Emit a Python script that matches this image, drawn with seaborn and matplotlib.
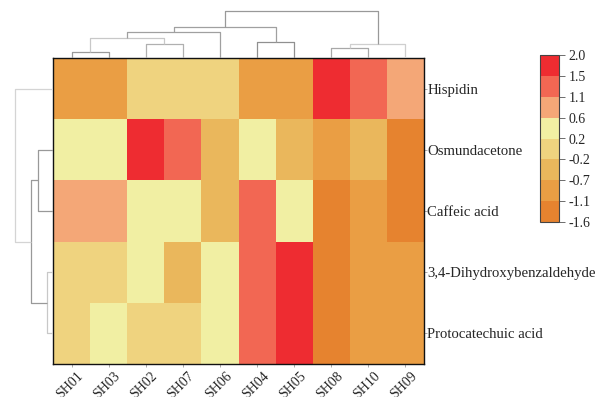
import numpy as np
import pandas as pd
import matplotlib
matplotlib.use("Agg")
import matplotlib.pyplot as plt
import matplotlib.transforms as mtransforms
from matplotlib.colors import ListedColormap, BoundaryNorm
import seaborn as sns

# ---------------- data ----------------
columns = ["SH01", "SH03", "SH02", "SH07", "SH06", "SH04", "SH05", "SH08", "SH10", "SH09"]
rows = ["Hispidin", "Osmundacetone", "Caffeic acid", "3,4-Dihydroxybenzaldehyde", "Protocatechuic acid"]

hispidin = [-0.9, -0.9, 0.0, 0.0, 0.0, -0.9, -0.9, 1.8, 1.3, 0.8]
osmundacetone = [0.4, 0.4, 1.8, 1.3, -0.5, 0.4, -0.5, -0.9, -0.5, -1.4]
caffeic_acid = [0.8, 0.8, 0.4, 0.4, -0.5, 1.3, 0.4, -1.4, -0.9, -1.4]
dihydroxybenzaldehyde = [0.0, 0.0, 0.4, -0.5, 0.4, 1.3, 1.8, -1.4, -0.9, -0.9]
protocatechuic_acid = [0.0, 0.4, 0.0, 0.0, 0.4, 1.3, 1.8, -1.4, -0.9, -0.9]

bounds = [-1.6, -1.1, -0.7, -0.2, 0.2, 0.6, 1.1, 1.5, 2.0]
tick_labels = ["-1.6", "-1.1", "-0.7", "-0.2", "0.2", "0.6", "1.1", "1.5", "2.0"]

# linkage (a, b, height) in display-order leaf indices
col_merges = [(0, 1, 6), (7, 8, 10), (2, 3, 14), (11, 9, 14), (5, 6, 16),
              (10, 12, 20), (15, 4, 26), (16, 14, 31), (17, 13, 47)]
row_merges = [(3, 4, 6), (1, 2, 15), (6, 5, 22), (0, 7, 38)]

# ---------------- style ----------------
palette = ["#E6832F", "#EA9E44", "#EAB75C", "#EFD37F",
           "#F1EFA3", "#F4A777", "#F26753", "#EE2C31"]
col_link_colors = ["#9a9a9a", "#a8a8a8", "#b0b0b0", "#cfcfcf", "#909090",
                   "#c8c8c8", "#a0a0a0", "#a0a0a0", "#999999"]
row_link_colors = ["#c8c8c8", "#999999", "#999999", "#d4d4d4"]

sns.set_style("white")
plt.rcParams["font.family"] = ["Liberation Serif", "DejaVu Serif"]
plt.rcParams["axes.unicode_minus"] = False

W, H = 598, 397
fig = plt.figure(figsize=(W / 100, H / 100), dpi=100)


def rect(x0, y0, x1, y1):
    return [x0 / W, 1 - y1 / H, (x1 - x0) / W, (y1 - y0) / H]


ax = fig.add_axes(rect(53, 58, 424, 364))
cax = fig.add_axes(rect(540, 55, 559, 222))
ax_col = fig.add_axes(rect(53, 8, 424, 58))
ax_row = fig.add_axes(rect(13, 58, 53, 364))

df = pd.DataFrame([hispidin, osmundacetone, caffeic_acid,
                   dihydroxybenzaldehyde, protocatechuic_acid],
                  index=rows, columns=columns)

cmap = ListedColormap(palette)
norm = BoundaryNorm(bounds, cmap.N)

sns.heatmap(df, ax=ax, cmap=cmap, norm=norm, cbar_ax=cax,
            cbar_kws={"ticks": bounds})

# heatmap frame and ticks
for s in ax.spines.values():
    s.set_visible(True)
    s.set_color("#111111")
    s.set_linewidth(1.0)
ax.tick_params(axis="both", which="both", length=2, width=0.5, color="#888888",
               top=True, bottom=True, left=True, right=True,
               labelleft=False, labelright=True, labelbottom=True, labeltop=False)
ax.tick_params(axis="y", pad=0.5, labelsize=10.6)
ax.tick_params(axis="x", pad=2.3, labelsize=10)
ax.set_yticklabels(rows, rotation=0, ha="left")
ax.set_xticklabels(columns, rotation=45, ha="right", va="top",
                   rotation_mode="anchor")
shift = mtransforms.ScaledTranslation(5 / 100, 0, fig.dpi_scale_trans)
for lbl in ax.get_xticklabels():
    lbl.set_transform(lbl.get_transform() + shift)
ax.set_xlabel("")
ax.set_ylabel("")

# colorbar
cbar = ax.collections[0].colorbar
cbar.set_ticks(bounds)
cbar.set_ticklabels(tick_labels)
cbar.ax.tick_params(length=4, width=0.6, color="#555555", labelsize=10, pad=3)
cbar.outline.set_edgecolor("#444444")
cbar.outline.set_linewidth(0.8)


# dendrograms
def draw_dendro(axd, merges, n, orient, colors):
    pos = {i: i + 0.5 for i in range(n)}
    hgt = {i: 0.0 for i in range(n)}
    for k, (a, b, d) in enumerate(merges):
        xa, xb = pos[a], pos[b]
        ha, hb = hgt[a], hgt[b]
        if orient == "top":
            axd.plot([xa, xa, xb, xb], [ha, d, d, hb], color=colors[k], lw=0.9,
                     solid_capstyle="butt")
        else:
            axd.plot([ha, d, d, hb], [xa, xa, xb, xb], color=colors[k], lw=0.9,
                     solid_capstyle="butt")
        pos[n + k] = (xa + xb) / 2
        hgt[n + k] = d


draw_dendro(ax_col, col_merges, len(columns), "top", col_link_colors)
ax_col.set_xlim(0, len(columns))
ax_col.set_ylim(0, 50)
ax_col.axis("off")

draw_dendro(ax_row, row_merges, len(rows), "left", row_link_colors)
ax_row.set_ylim(len(rows), 0)
ax_row.set_xlim(40, 0)
ax_row.axis("off")

fig.savefig("out.png", dpi=100)
